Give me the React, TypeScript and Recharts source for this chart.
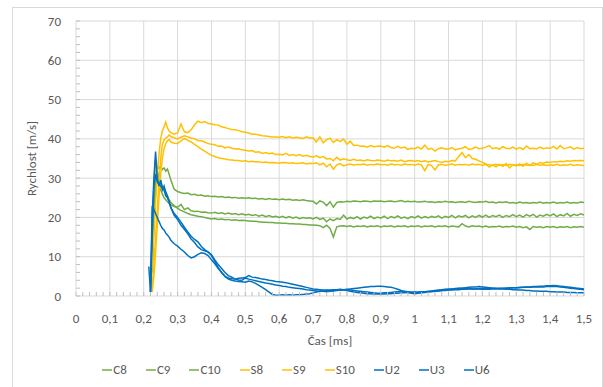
import React from 'react';
import { LineChart, Line, XAxis, YAxis, CartesianGrid, Legend, Label } from 'recharts';

// time axis [ms]
const time = [
  0.215, 0.22, 0.225, 0.23, 0.235, 0.24, 0.245, 0.25, 0.255, 0.26, 0.265, 0.27, 0.275, 0.28, 0.29,
  0.30, 0.31, 0.32, 0.33, 0.34, 0.35, 0.36, 0.37, 0.38, 0.39,
  0.40, 0.41, 0.42, 0.43, 0.44, 0.45, 0.46, 0.47, 0.48, 0.49,
  0.50, 0.51, 0.52, 0.53, 0.54, 0.55, 0.56, 0.57, 0.58, 0.59,
  0.60, 0.61, 0.62, 0.63, 0.64, 0.65, 0.66, 0.67, 0.68, 0.69,
  0.70, 0.71, 0.72, 0.73, 0.74, 0.75, 0.76, 0.77, 0.78, 0.79,
  0.80, 0.81, 0.82, 0.83, 0.84, 0.85, 0.86, 0.87, 0.88, 0.89,
  0.90, 0.91, 0.92, 0.93, 0.94, 0.95, 0.96, 0.97, 0.98, 0.99,
  1.00, 1.01, 1.02, 1.03, 1.04, 1.05, 1.06, 1.07, 1.08, 1.09,
  1.10, 1.11, 1.12, 1.13, 1.14, 1.15, 1.16, 1.17, 1.18, 1.19,
  1.20, 1.21, 1.22, 1.23, 1.24, 1.25, 1.26, 1.27, 1.28, 1.29,
  1.30, 1.31, 1.32, 1.33, 1.34, 1.35, 1.36, 1.37, 1.38, 1.39,
  1.40, 1.41, 1.42, 1.43, 1.44, 1.45, 1.46, 1.47, 1.48, 1.49,
  1.50,
];

const C8 = [
  null, null, 8, 22, 30, 33, 32.5, 33, 32.2, 32.6, 31.8, 32.3, 31, 29.5, 27.2,
  26.6, 26.3, 26.1, 26.2, 25.8, 25.9, 25.6, 25.7, 25.4, 25.5,
  25.3, 25.4, 25.2, 25.3, 25.1, 25.2, 25.0, 25.1, 24.9, 25.0,
  24.9, 25.0, 24.8, 24.9, 24.7, 24.8, 24.6, 24.8, 24.6, 24.7,
  24.5, 24.7, 24.5, 24.6, 24.4, 24.5, 24.3, 24.5, 24.3, 24.2,
  24.1, 23.4, 24.2, 23.9, 23.0, 24.0, 22.6, 23.8, 24.0, 23.9,
  24.1, 24.0, 24.2, 24.1, 24.0, 24.2, 24.1, 24.0, 24.2, 24.1,
  24.2, 24.0, 24.1, 24.2, 24.0, 24.1, 24.3, 24.0, 24.1, 24.0,
  24.1, 23.9, 24.0, 24.1, 23.9, 24.0, 23.8, 24.0, 23.9, 24.1,
  23.9, 24.0, 23.8, 23.9, 24.0, 23.8, 24.1, 23.9, 23.8, 24.0,
  23.9, 24.1, 23.8, 23.9, 23.7, 23.9, 23.8, 24.0, 23.7, 23.8,
  23.6, 23.9, 23.7, 23.8, 23.6, 23.8, 23.7, 23.9, 23.6, 23.8,
  23.7, 23.9, 23.6, 23.8, 23.7, 23.9, 23.6, 23.8, 23.7, 23.9,
  23.8,
];

const C9 = [
  null, 3, 14, 27, 34.7, 32, 29, 27, 26, 25, 24.5, 24, 23.5, 23.2, 22.8,
  22.6, 23.3, 22.0, 22.4, 21.7, 21.5, 21.6, 21.3, 21.4, 21.2,
  21.1, 21.3, 21.0, 21.2, 20.9, 21.1, 20.8, 21.0, 20.7, 20.9,
  20.6, 20.8, 20.5, 20.7, 20.3, 20.6, 20.2, 20.5, 20.1, 20.3,
  20.0, 20.3, 19.9, 20.2, 19.8, 20.1, 19.7, 20.0, 19.8, 19.9,
  19.6, 20.0, 19.5, 19.8, 18.9, 19.6, 19.2, 19.7, 19.5, 20.6,
  19.6, 20.0, 19.7, 20.2, 19.6, 20.1, 19.8, 20.3, 19.7, 20.1,
  19.8, 20.3, 19.7, 20.2, 19.9, 20.4, 19.8, 20.1, 19.7, 20.2,
  19.9, 20.4, 19.8, 20.2, 19.9, 20.3, 20.0, 20.4, 19.8, 20.3,
  20.0, 20.5, 19.9, 20.4, 20.1, 20.5, 19.9, 20.4, 20.0, 20.5,
  20.1, 20.6, 20.0, 20.5, 20.2, 20.6, 20.0, 20.5, 20.2, 20.7,
  20.2, 20.6, 20.1, 20.7, 20.3, 20.8, 20.1, 20.6, 20.3, 20.8,
  20.4, 20.9, 20.2, 20.7, 20.4, 21.0, 20.3, 20.8, 20.5, 20.9,
  20.6,
];

const C10 = [
  null, null, 6, 18, 26, 30, 31, 29.5, 28, 27, 26, 25.2, 24.5, 23.8, 23,
  22.3, 21.8, 21.4, 21.0, 20.7, 20.5, 20.3, 20.2, 20.0, 19.8,
  19.6, 19.7, 19.5, 19.6, 19.4, 19.5, 19.3, 19.4, 19.2, 19.3,
  19.2, 19.1, 19.0, 19.0, 18.9, 18.8, 18.8, 18.7, 18.7, 18.6,
  18.6, 18.5, 18.5, 18.4, 18.4, 18.3, 18.3, 18.2, 18.2, 18.1,
  18.1, 18.0, 17.9, 17.4, 18.0, 17.2, 15.0, 17.6, 17.8, 17.9,
  17.7, 17.9, 17.6, 17.8, 17.7, 17.9, 17.6, 17.8, 17.7, 17.9,
  17.6, 17.8, 17.7, 17.9, 17.6, 17.8, 17.7, 17.9, 17.6, 17.8,
  17.7, 17.9, 17.6, 17.8, 17.7, 17.9, 17.6, 17.8, 17.7, 17.9,
  17.6, 17.8, 17.7, 17.6, 18.4, 17.8, 17.6, 17.9, 17.7, 17.8,
  17.6, 17.8, 17.5, 17.7, 17.6, 17.8, 17.5, 17.7, 17.6, 17.8,
  17.5, 17.7, 17.4, 17.6, 16.9, 17.7, 17.5, 17.6, 17.4, 17.7,
  17.5, 17.7, 17.4, 17.6, 17.5, 17.7, 17.4, 17.6, 17.5, 17.7,
  17.5,
];

const S8 = [
  null, 1, 8, 16, 24, 31, 36, 40, 42, 43, 44.3, 42.8, 42, 41.6, 41.2,
  41.5, 43.8, 41.8, 41.6, 42.3, 43.6, 44.5, 44.1, 44.4, 43.9,
  43.8, 43.6, 43.5, 43.1, 42.9, 42.6, 42.4, 42.3, 42.1, 41.8,
  41.7, 41.5, 41.2, 41.2, 41.0, 40.8, 40.7, 40.6, 40.5, 40.5,
  40.4, 40.6, 40.3, 40.5, 40.2, 40.4, 40.3, 40.1, 40.5, 40.2,
  40.3, 39.2, 40.5, 39.0, 39.8, 40.2, 39.1, 39.8, 39.3, 40.0,
  38.6, 39.4, 38.3, 38.4, 38.1, 38.2, 37.9, 38.3, 38.0, 38.1,
  38.2, 37.9, 38.3, 37.8, 37.6, 38.1, 37.7, 37.9, 37.3, 37.6,
  37.5, 37.9, 37.4, 38.4, 37.3, 37.6, 36.9, 37.5, 37.7, 37.4,
  37.4, 37.8, 37.2, 37.5, 37.6, 38.0, 37.3, 37.5, 37.9, 37.5,
  37.6, 37.9, 38.3, 37.5, 37.7, 37.4, 38.0, 37.6, 37.5, 37.9,
  37.4, 37.8, 37.3, 38.2, 37.5, 37.6, 37.4, 37.9, 37.5, 37.7,
  37.6, 38.1, 37.4, 38.3, 37.5, 37.7, 38.0, 37.4, 37.8, 37.5,
  37.6,
];

const S9 = [
  null, null, 2, 8, 15, 22, 29, 35, 38.5, 39.8, 40.2, 40.5, 41, 40.6, 40.3,
  40.0, 40.4, 40.8, 40.5, 40.2, 40.0, 39.6, 39.5, 39.2, 38.8,
  38.6, 38.5, 38.1, 38.2, 37.7, 37.9, 37.6, 37.4, 37.5, 37.2,
  37.1, 36.9, 37.0, 36.6, 36.7, 36.3, 36.5, 36.2, 36.4, 36.0,
  36.1, 35.9, 36.3, 35.8, 36.0, 35.7, 36.0, 35.6, 35.8, 35.5,
  35.4, 35.7, 35.2, 35.5, 34.9, 35.0, 34.4, 35.3, 34.6, 34.9,
  34.7, 34.5, 34.8, 34.5, 34.6, 34.4, 34.7, 34.5, 34.4, 34.6,
  34.5, 34.3, 34.6, 34.4, 34.5, 34.3, 34.6, 34.2, 34.4, 34.5,
  34.3, 34.5, 34.2, 34.4, 34.1, 34.3, 34.5, 34.2, 34.0, 34.3,
  34.2, 34.5, 34.4, 35.5, 36.5, 35.2, 36.0, 35.0, 34.8, 34.4,
  34.0, 33.6, 32.8, 33.4, 32.9, 33.5, 33.0, 33.7, 32.6, 33.4,
  33.1, 33.6, 33.0, 33.8, 33.2, 33.9, 33.5, 34.0, 33.8, 34.1,
  34.0, 34.2, 34.1, 34.3, 34.2, 34.4, 34.3, 34.5, 34.4, 34.5,
  34.4,
];

const S10 = [
  null, null, 1, 5, 11, 18, 25, 31, 35, 37.5, 38.8, 39.5, 39.8, 39.2, 38.9,
  38.8, 39.5, 40.1, 39.6, 39.2, 38.6, 38.0, 37.4, 36.9, 36.3,
  35.8, 35.5, 35.2, 35.0, 34.9, 34.7, 34.6, 34.5, 34.5, 34.3,
  34.4, 34.2, 34.3, 34.1, 34.2, 34.0, 34.1, 33.9, 34.0, 33.9,
  33.8, 34.0, 33.9, 33.8, 33.9, 33.7, 33.8, 33.9, 33.6, 33.8,
  33.7, 33.9, 33.4, 33.8, 32.9, 33.6, 32.3, 33.4, 33.7, 33.1,
  33.4, 33.6, 33.3, 33.5, 33.4, 33.6, 33.3, 33.5, 33.4, 33.6,
  33.4, 33.5, 33.3, 33.6, 33.4, 33.5, 33.3, 33.6, 33.4, 33.5,
  33.3, 33.6, 33.4, 31.9, 33.5, 33.2, 32.1, 33.4, 33.5, 33.3,
  33.4, 33.6, 33.3, 33.5, 33.4, 33.5, 33.3, 33.6, 33.4, 33.5,
  33.3, 33.5, 33.4, 33.2, 33.5, 33.3, 33.4, 33.2, 33.5, 33.3,
  33.4, 33.2, 33.5, 33.3, 33.4, 33.2, 33.5, 33.3, 33.4, 33.2,
  33.4, 33.3, 33.5, 33.2, 33.4, 33.3, 33.5, 33.2, 33.4, 33.3,
  33.2,
];

const U2 = [
  7.5, 1, 20, 30, 36.8, 30, 28, 29.5, 27, 28, 26.5, 25.5, 24, 22.5, 20.5,
  19.5, 18, 17, 15.8, 14.5, 13.6, 12.5, 11.8, 11.5, 11.2,
  10.5, 9.2, 8, 7, 6, 5.2, 4.8, 4.3, 4.1, 4.0,
  4.6, 4.3, 4.1, 3.9, 3.7, 3.5, 3.3, 3.2, 3.0, 2.8,
  2.7, 2.5, 2.4, 2.2, 2.1, 2.0, 1.9, 1.8, 1.6, 1.5,
  1.4, 1.3, 1.2, 1.2, 1.1, 1.2, 1.3, 1.4, 1.5, 1.5,
  1.4, 1.2, 1.0, 0.9, 0.8, 0.7, 0.6, 0.6, 0.5, 0.5,
  0.5, 0.5, 0.6, 0.6, 0.7, 0.7, 0.8, 0.8, 0.9, 0.9,
  1.0, 1.0, 1.1, 1.1, 1.2, 1.2, 1.3, 1.3, 1.4, 1.4,
  1.5, 1.5, 1.6, 1.6, 1.7, 1.7, 1.8, 1.8, 1.8, 1.9,
  1.9, 1.9, 2.0, 2.0, 2.0, 2.0, 2.0, 2.0, 2.1, 2.1,
  2.1, 2.1, 2.2, 2.2, 2.2, 2.3, 2.3, 2.3, 2.3, 2.4,
  2.4, 2.5, 2.4, 2.3, 2.2, 2.1, 2.0, 1.9, 1.8, 1.7,
  1.6,
];

const U3 = [
  null, 1, 15, 28, 31, 29, 28.5, 28, 27.5, 27, 25.5, 25, 24, 22.5, 21,
  20, 18.8, 17.5, 16.3, 15.2, 14.4, 13.8, 12.6, 11.8, 11.2,
  10.3, 8.8, 7.2, 6.0, 5.0, 4.3, 4.0, 3.8, 3.7, 3.6,
  3.5, 3.8, 3.6, 3.2, 2.7, 2.2, 1.6, 1.0, 0.4, 0.2,
  0.2, 0.3, 0.2, 0.3, 0.2, 0.3, 0.3, 0.4, 0.5, 0.6,
  0.8, 1.0, 1.2, 1.3, 1.4, 1.5, 1.6, 1.6, 1.7, 1.6,
  1.7, 1.8, 1.9, 2.0, 2.1, 2.2, 2.3, 2.4, 2.4, 2.5,
  2.5, 2.4, 2.3, 2.2, 2.0, 1.7, 1.4, 1.1, 0.9, 0.7,
  0.6, 0.7, 0.8, 0.9, 1.0, 1.1, 1.2, 1.3, 1.4, 1.5,
  1.6, 1.7, 1.8, 1.9, 2.0, 2.1, 2.2, 2.3, 2.3, 2.4,
  2.3, 2.2, 2.1, 2.0, 1.9, 1.8, 1.8, 1.7, 1.7, 1.6,
  1.6, 1.5, 1.5, 1.4, 1.4, 1.3, 1.3, 1.2, 1.2, 1.2,
  1.1, 1.1, 1.0, 1.0, 1.0, 0.9, 0.9, 0.9, 0.8, 0.8,
  0.8,
];

const U6 = [
  null, 1, 23, 22, 21, 20, 19, 18, 17.2, 16.8, 16, 15.5, 15, 14.2, 13.3,
  12.7, 11.9, 11.2, 10.3, 9.7, 10.0, 10.6, 11.0, 10.8, 10.3,
  9.2, 8.2, 7.0, 6.0, 5.0, 4.6, 4.4, 4.3, 4.5, 4.6,
  4.7, 5.2, 4.8, 4.7, 4.5, 4.3, 4.2, 4.0, 3.9, 3.7,
  3.6, 3.5, 3.4, 3.2, 3.0, 2.8, 2.6, 2.4, 2.2, 2.0,
  1.8, 1.7, 1.6, 1.5, 1.5, 1.4, 1.4, 1.5, 1.5, 1.6,
  1.6, 1.5, 1.4, 1.3, 1.2, 1.1, 1.0, 0.9, 0.8, 0.7,
  0.7, 0.8, 0.8, 0.9, 1.0, 1.1, 1.2, 1.2, 1.1, 1.0,
  0.9, 0.8, 0.9, 1.0, 1.1, 1.3, 1.4, 1.5, 1.6, 1.7,
  1.8, 1.8, 1.9, 2.0, 2.0, 1.9, 1.9, 1.8, 1.8, 1.8,
  1.7, 1.7, 1.7, 1.8, 1.8, 1.9, 1.9, 2.0, 2.0, 2.1,
  2.1, 2.2, 2.2, 2.3, 2.3, 2.4, 2.4, 2.5, 2.5, 2.6,
  2.6, 2.7, 2.6, 2.5, 2.4, 2.3, 2.2, 2.1, 2.0, 1.9,
  1.8,
];

const xTickLabels = [0, 0.1, 0.2, 0.3, 0.4, 0.5, 0.6, 0.7, 0.8, 0.9, 1, 1.1, 1.2, 1.3, 1.4, 1.5];
const yTickLabels = [0, 10, 20, 30, 40, 50, 60, 70];

const series = [
  { key: 'C8', values: C8, color: '#70AD47' },
  { key: 'C9', values: C9, color: '#70AD47' },
  { key: 'C10', values: C10, color: '#70AD47' },
  { key: 'S8', values: S8, color: '#FFC000' },
  { key: 'S9', values: S9, color: '#FFC000' },
  { key: 'S10', values: S10, color: '#FFC000' },
  { key: 'U2', values: U2, color: '#0070C0' },
  { key: 'U3', values: U3, color: '#0070C0' },
  { key: 'U6', values: U6, color: '#0070C0' },
];
const seriesOrder = series.map((s) => s.key);

const data = time.map((t, i) => {
  const row: Record<string, number | null> = { t };
  series.forEach((s) => { row[s.key] = s.values[i]; });
  return row;
});

// minor tick marks (every 0.02 ms / 2 m/s), labels only on the major ones
const xMinor = Array.from({ length: 76 }, (_, i) => +(i * 0.02).toFixed(2));
const yMinor = Array.from({ length: 36 }, (_, i) => i * 2);
const isMajorX = (v: number) => xTickLabels.some((m) => Math.abs(m - v) < 1e-6);
const fmtX = (v: number) => (isMajorX(v) ? String(+v.toFixed(1)).replace('.', ',') : '');
const fmtY = (v: number) => (v % 10 === 0 ? String(v) : '');

const FONT = 'Carlito, Calibri, Lato, sans-serif';
const GREY = '#595959';
const tickStyle = { fill: GREY, fontSize: 13, fontFamily: FONT };

const LegendContent = ({ payload }: any) => {
  const items = [...(payload || [])].sort(
    (a: any, b: any) => seriesOrder.indexOf(a.dataKey) - seriesOrder.indexOf(b.dataKey)
  );
  return (
    <div style={{ display: 'flex', justifyContent: 'center', fontFamily: FONT, fontSize: 13, color: GREY }}>
      {items.map((p: any) => (
        <div key={p.dataKey} style={{ display: 'flex', alignItems: 'center', marginRight: 19 }}>
          <svg width={10} height={10} style={{ marginRight: 1 }}>
            <line x1={0} y1={5} x2={10} y2={5} stroke={p.color} strokeWidth={1.5} />
          </svg>
          <span>{p.value}</span>
        </div>
      ))}
    </div>
  );
};

export default function App() {
  return (
    <div style={{ position: 'fixed', left: 0, top: 0, width: 603, height: 387, overflow: 'hidden', background: '#fff' }}>
      <div style={{ position: 'absolute', left: 12, top: 7, width: 589, height: 400, border: '1px solid #d9d9d9' }} />
      <div style={{ position: 'absolute', left: 0, top: 0 }}>
        <LineChart width={603} height={387} data={data} margin={{ top: 21, right: 19, bottom: 61, left: 0 }}>
          <CartesianGrid
            stroke="#d9d9d9"
            horizontalValues={yTickLabels.slice(1)}
            verticalValues={xTickLabels.slice(1)}
          />
          <XAxis
            dataKey="t"
            type="number"
            domain={[0, 1.5]}
            ticks={xMinor}
            interval={0}
            tickFormatter={fmtX}
            tick={tickStyle}
            tickSize={-4}
            tickMargin={22}
            tickLine={{ stroke: '#bfbfbf' }}
            axisLine={{ stroke: '#d9d9d9' }}
            height={30}
          >
            <Label
              content={(props: any) => {
                const vb = props.viewBox || {};
                const cx = vb.x + vb.width / 2;
                return (
                  <text x={cx} y={340} textAnchor="middle" dominantBaseline="central" fill={GREY} fontSize={13} fontFamily={FONT}>
                    Čas [ms]
                  </text>
                );
              }}
            />
          </XAxis>
          <YAxis
            type="number"
            domain={[0, 70]}
            ticks={yMinor}
            interval={0}
            tickFormatter={fmtY}
            tick={tickStyle}
            tickSize={-4}
            tickMargin={19}
            tickLine={{ stroke: '#bfbfbf' }}
            axisLine={{ stroke: '#d9d9d9' }}
            width={76}
          >
            <Label
              content={(props: any) => {
                const vb = props.viewBox || {};
                const cy = vb.y + vb.height / 2;
                return (
                  <text x={31} y={cy} transform={`rotate(-90 31 ${cy})`} textAnchor="middle" dominantBaseline="central" fill={GREY} fontSize={13} fontFamily={FONT}>
                    Rychlost [m/s]
                  </text>
                );
              }}
            />
          </YAxis>
          <Legend
            layout="horizontal"
            align="center"
            verticalAlign="middle"
            content={LegendContent}
            wrapperStyle={{ top: 362, left: 4, width: 603 }}
          />
          {series.map((s) => (
            <Line
              key={s.key}
              type="linear"
              dataKey={s.key}
              stroke={s.color}
              strokeWidth={1.5}
              dot={false}
              activeDot={false}
              isAnimationActive={false}
            />
          ))}
        </LineChart>
      </div>
    </div>
  );
}
